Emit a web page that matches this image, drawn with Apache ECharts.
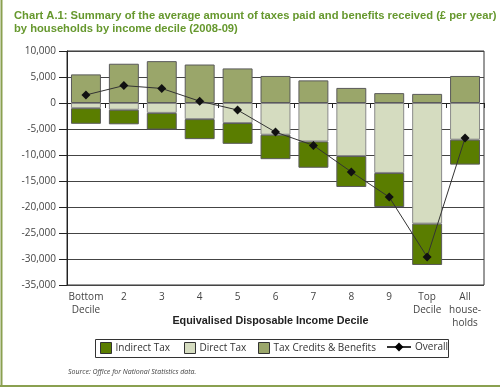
<!DOCTYPE html>
<html><head><meta charset="utf-8">
<script src="https://cdn.jsdelivr.net/npm/echarts@6/dist/echarts.min.js"></script>
<style>html,body{margin:0;padding:0;background:#fff}#c{width:500px;height:388px}</style>
</head><body><div id="c"></div>
<script>
var categories = ['Bottom\nDecile','2','3','4','5','6','7','8','9','Top\nDecile','All\nhouse-\nholds'];
var indirectTax = [-3000,-2800,-3200,-3850,-4000,-4700,-5050,-5950,-6550,-7950,-4800];
var directTax = [-1000,-1300,-1900,-3100,-3850,-6100,-7400,-10200,-13450,-23200,-7050];
var benefits = [5500,7550,8050,7400,6650,5200,4350,2900,1900,1750,5200];
var overall = [1550,3350,2800,350,-1350,-5600,-8150,-13250,-18100,-29600,-6750];
var yTicks = {min:-35000, max:10000, interval:5000};

var FONT = '"Open Sans", sans-serif';
var chart = echarts.init(document.getElementById('c'), null, {renderer:'canvas'});
var bord = '#5a5a5a';
function leg(name, left, w){
  return {data:[name], left:left, top:342, padding:0, itemWidth:w||11, itemHeight:11, itemGap:0,
    icon: w ? undefined : 'rect',
    itemStyle: w ? undefined : {borderColor:'#333', borderWidth:1},
    textStyle:{fontSize:10, color:'#333', padding:[0,0,0,-1]}};
}
chart.setOption({
  animation:false,
  textStyle:{fontFamily:FONT},
  title:{
    text:'Chart A.1: Summary of the average amount of taxes paid and benefits received (£ per year)\nby households by income decile (2008-09)',
    left:14, top:9, padding:0,
    textStyle:{fontFamily:'"Liberation Sans", sans-serif', fontSize:11.2, fontWeight:'bold', color:'#66982e', lineHeight:13.5}
  },
  grid:{left:67, right:16, top:51, bottom:103, show:true, borderColor:'#333', borderWidth:1, containLabel:false},
  legend:[leg('Indirect Tax',100), leg('Direct Tax',184), leg('Tax Credits & Benefits',258), leg('Overall',386,24)],
  xAxis:{
    type:'category', data:categories,
    name:'Equivalised Disposable Income Decile', nameLocation:'middle', nameGap:31, nameMoveOverlap:false,
    nameTextStyle:{fontFamily:'"Liberation Sans", sans-serif', fontWeight:'bold', fontSize:10.8, color:'#222', padding:[0,0,0,-10]},
    axisLine:{lineStyle:{color:'#222'}},
    axisTick:{show:true, length:5, lineStyle:{color:'#222'}},
    axisLabel:{fontSize:10, color:'#444', margin:6, lineHeight:13, interval:0}
  },
  yAxis:{
    type:'value', min:yTicks.min, max:yTicks.max, interval:yTicks.interval,
    axisLine:{show:true, lineStyle:{color:'#222'}},
    axisTick:{show:true, length:8, lineStyle:{color:'#222'}},
    splitLine:{lineStyle:{color:'#444', width:1}},
    axisLabel:{fontSize:10, color:'#444', margin:11, formatter:function(v){return v.toLocaleString('en-US');}}
  },
  series:[
    {name:'Direct Tax', type:'bar', stack:'s', data:directTax, barCategoryGap:'21%',
     itemStyle:{color:'#d5dcc0', borderColor:'#8a8a8a', borderWidth:1}},
    {name:'Indirect Tax', type:'bar', stack:'s', data:indirectTax,
     itemStyle:{color:'#5a7d00', borderColor:bord, borderWidth:1}},
    {name:'Tax Credits & Benefits', type:'bar', stack:'s', data:benefits,
     itemStyle:{color:'#9aa66a', borderColor:bord, borderWidth:1}},
    {name:'Overall', type:'line', data:overall, symbol:'diamond', symbolSize:9,
     lineStyle:{color:'#333', width:1}, itemStyle:{color:'#111'}, z:5}
  ],
  graphic:[
    {type:'rect', shape:{x:95.5, y:339.5, width:353, height:18}, style:{fill:'none', stroke:'#333', lineWidth:1}, z:-1},
    {type:'text', left:68, top:368, style:{text:'Source: Office for National Statistics data.', font:'italic 7px "Open Sans", sans-serif', fill:'#444'}},
    {type:'line', shape:{x1:1.5, y1:0, x2:1.5, y2:386}, style:{stroke:'#8aa050', lineWidth:2}},
    {type:'line', shape:{x1:0, y1:386, x2:500, y2:386}, style:{stroke:'#8aa050', lineWidth:2}}
  ]
});
</script></body></html>
